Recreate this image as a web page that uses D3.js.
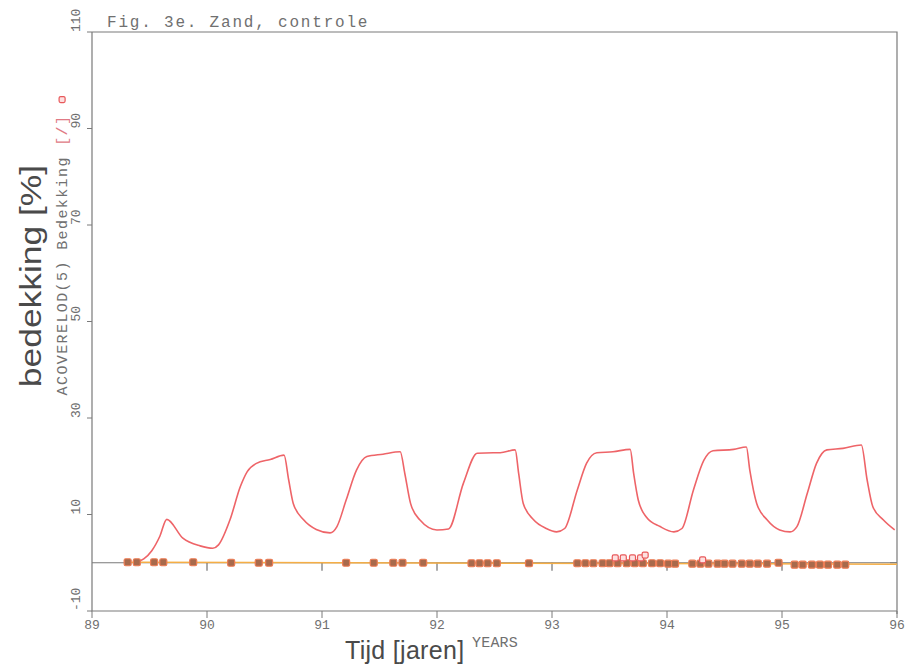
<!DOCTYPE html>
<html lang="nl">
<head>
	<meta charset="utf-8">
	<title>Fig. 3e. Zand, controle</title>
	<script src="https://d3js.org/d3.v7.min.js"></script>
	<style>
	body {
		margin: 0;
		background: #fff;
	}
	.plotter {
		font-family: "Liberation Mono", "DejaVu Sans Mono", monospace;
		fill: #707070;
	}
	.big {
		font-family: "Liberation Sans", Arial, sans-serif;
		fill: #4a4a4a;
	}
	</style>
</head>
<body>
	<div id="chart"></div>
	<script>
		// seasonal cover curve (year, cover %)
		let curveYears = [89.37, 89.45, 89.52, 89.59, 89.65, 89.79, 89.94, 90.05, 90.10, 90.20,
			90.29, 90.35, 90.43, 90.55, 90.67, 90.71, 90.75, 90.84, 90.95, 91.07,
			91.13, 91.21, 91.30, 91.39, 91.53, 91.68, 91.72, 91.77, 91.85, 92.00,
			92.10, 92.23, 92.35, 92.49, 92.55, 92.68, 92.71, 92.75, 92.84, 92.95,
			93.04, 93.11, 93.22, 93.30, 93.39, 93.53, 93.68, 93.71, 93.75, 93.82,
			93.94, 94.06, 94.13, 94.23, 94.32, 94.40, 94.58, 94.69, 94.72, 94.78,
			94.87, 94.98, 95.07, 95.13, 95.22, 95.30, 95.39, 95.53, 95.69, 95.74,
			95.79, 95.88, 95.98];
		let curveValues = [0.0, 0.8, 2.5, 5.5, 9.0, 5.1, 3.5, 3.0, 3.7, 8.9,
			15.8, 18.9, 20.6, 21.4, 22.3, 17.2, 12.3, 8.9, 6.9, 6.2,
			7.5, 13.0, 19.2, 22.0, 22.5, 23.0, 18.5, 12.3, 8.9, 6.8,
			7.0, 16.5, 22.7, 22.8, 22.8, 23.4, 18.5, 12.3, 8.9, 7.1,
			6.4, 7.1, 15.1, 20.6, 22.8, 23.0, 23.5, 18.5, 13.0, 9.5,
			7.5, 6.4, 7.1, 15.1, 21.2, 23.2, 23.5, 24.0, 19.2, 12.3,
			8.9, 6.8, 6.4, 7.5, 14.4, 20.6, 23.4, 23.7, 24.4, 17.2,
			11.6, 8.9, 6.8];

		// observations (brown squares)
		let obsYears = [89.31, 89.39, 89.54, 89.62, 89.88, 90.21, 90.45, 90.54, 91.21, 91.45,
			91.62, 91.70, 91.88, 92.30, 92.37, 92.44, 92.52, 92.80, 93.22, 93.29,
			93.36, 93.44, 93.50, 93.57, 93.65, 93.72, 93.79, 93.87, 93.94, 94.01,
			94.07, 94.22, 94.29, 94.36, 94.44, 94.50, 94.57, 94.65, 94.72, 94.79,
			94.87, 94.97, 95.11, 95.18, 95.26, 95.33, 95.40, 95.48, 95.55];
		let obsValues = [0.1, 0.1, 0.1, 0.1, 0.1, 0.0, 0.0, 0.0, 0.0, 0.0,
			0.0, 0.0, 0.0, -0.1, -0.1, -0.1, -0.1, -0.1, -0.1, -0.1,
			-0.1, -0.1, -0.1, -0.1, -0.1, -0.1, -0.1, -0.1, -0.1, -0.2,
			-0.2, -0.2, -0.2, -0.2, -0.2, -0.2, -0.2, -0.2, -0.2, -0.2,
			-0.2, 0.0, -0.4, -0.4, -0.4, -0.4, -0.4, -0.4, -0.4];

		// red open squares
		let redYears = [88.74, 93.55, 93.62, 93.70, 93.77, 93.81, 94.31];
		let redValues = [96.0, 1.0, 1.0, 1.0, 1.0, 1.6, 0.6];

		// fitted trend line
		let trendYears = [89.31, 96.0];
		let trendValues = [0.1, -0.3];

		let xTicks = [89, 90, 91, 92, 93, 94, 95, 96];
		let yTicks = [-10, 10, 30, 50, 70, 90, 110];

		let xSize = 907;
		let ySize = 666;
		let mLeft = 92, mRight = 897, mTop = 32, mBottom = 611;

		let svg = d3.select("#chart")
			.append("svg")
			.attr("width", xSize)
			.attr("height", ySize);

		let x = d3.scaleLinear().domain([89, 96]).range([mLeft, mRight]);
		let y = d3.scaleLinear().domain([-10, 110]).range([mBottom, mTop]);

		let axisColor = "#7a7a7a";

		// frame: left, bottom, top, right
		svg.append("path")
			.attr("d", `M${mLeft},${mTop} V${mBottom} H${mRight} M${mLeft},${mTop} H${mRight} V${mBottom + 3}`)
			.attr("fill", "none")
			.attr("stroke", axisColor)
			.attr("stroke-width", 1.2);

		// zero line
		svg.append("line")
			.attr("x1", x(89)).attr("x2", x(96))
			.attr("y1", y(0)).attr("y2", y(0))
			.attr("stroke", axisColor)
			.attr("stroke-width", 1);

		// y ticks
		svg.selectAll("line.ytick")
			.data(yTicks)
			.enter()
			.append("line")
			.attr("class", "ytick")
			.attr("x1", mLeft - 5).attr("x2", mLeft)
			.attr("y1", d => y(d)).attr("y2", d => y(d))
			.attr("stroke", axisColor);

		svg.selectAll("text.ylab")
			.data(yTicks)
			.enter()
			.append("text")
			.attr("class", "ylab plotter")
			.attr("transform", d => `translate(80,${y(d)}) rotate(-90)`)
			.attr("font-size", 13)
			.text(d => d);

		// x ticks bottom
		svg.selectAll("line.xtick")
			.data(xTicks)
			.enter()
			.append("line")
			.attr("class", "xtick")
			.attr("x1", d => x(d)).attr("x2", d => x(d))
			.attr("y1", mBottom).attr("y2", mBottom + 7)
			.attr("stroke", axisColor);

		// x ticks on zero line
		svg.selectAll("line.ztick")
			.data(xTicks.slice(1, -1))
			.enter()
			.append("line")
			.attr("class", "ztick")
			.attr("x1", d => x(d)).attr("x2", d => x(d))
			.attr("y1", y(0)).attr("y2", y(0) + 8)
			.attr("stroke", "#555");
		svg.append("line")
			.attr("x1", mRight - 7).attr("x2", mRight)
			.attr("y1", y(0)).attr("y2", y(0))
			.attr("stroke", axisColor);

		svg.selectAll("text.xlab")
			.data(xTicks)
			.enter()
			.append("text")
			.attr("class", "xlab plotter")
			.attr("x", d => x(d))
			.attr("y", 629)
			.attr("text-anchor", "middle")
			.attr("font-size", 13)
			.text(d => d);

		// titles
		svg.append("text")
			.attr("class", "plotter")
			.attr("x", 107).attr("y", 27)
			.attr("font-size", 16)
			.attr("letter-spacing", 1.8)
			.text("Fig. 3e. Zand, controle");

		let ylab2 = svg.append("text")
			.attr("class", "plotter")
			.attr("transform", "translate(67,255) rotate(-90)")
			.attr("text-anchor", "middle")
			.attr("font-size", 15)
			.attr("letter-spacing", 1.4);
		ylab2.append("tspan").text("ACOVERELOD(5) Bedekking ");
		ylab2.append("tspan").attr("fill", "#e07a85").text("[/]");

		svg.append("text")
			.attr("class", "big")
			.attr("transform", "translate(41,276) rotate(-90) scale(1.18,1)")
			.attr("text-anchor", "middle")
			.attr("font-size", 30)
			.text("bedekking [%]");

		svg.append("text")
			.attr("class", "big")
			.attr("x", 345).attr("y", 659)
			.attr("font-size", 25)
			.attr("letter-spacing", 0.3)
			.text("Tijd [jaren]");

		svg.append("text")
			.attr("class", "plotter")
			.attr("x", 472).attr("y", 647)
			.attr("font-size", 15)
			.attr("letter-spacing", 0.2)
			.text("YEARS");

		// trend line
		svg.append("path")
			.datum(d3.zip(trendYears, trendValues))
			.attr("fill", "none")
			.attr("stroke", "#f5ae45")
			.attr("stroke-width", 1.5)
			.attr("d", d3.line().x(d => x(d[0])).y(d => y(d[1])));

		// seasonal curve
		svg.append("path")
			.datum(d3.zip(curveYears, curveValues))
			.attr("fill", "none")
			.attr("stroke", "#ee6468")
			.attr("stroke-width", 1.6)
			.attr("d", d3.line()
				.x(d => x(d[0]))
				.y(d => y(d[1]))
				.curve(d3.curveMonotoneX));

		// observation squares
		svg.selectAll("rect.obs")
			.data(d3.zip(obsYears, obsValues))
			.enter()
			.append("rect")
			.attr("class", "obs")
			.attr("x", d => x(d[0]) - 3.5)
			.attr("y", d => y(d[1]) - 3.5)
			.attr("width", 7).attr("height", 7)
			.attr("rx", 1.5)
			.attr("fill", "#a86a4c")
			.attr("stroke", "#ee7d55")
			.attr("stroke-width", 1.2);

		svg.selectAll("rect.red")
			.data(d3.zip(redYears, redValues))
			.enter()
			.append("rect")
			.attr("class", "red")
			.attr("x", d => x(d[0]) - 3)
			.attr("y", d => y(d[1]) - 3)
			.attr("width", 6).attr("height", 6)
			.attr("rx", 1.5)
			.attr("fill", "#fde0e0")
			.attr("stroke", "#e8585a")
			.attr("stroke-width", 1.2);
	</script>
</body>
</html>
